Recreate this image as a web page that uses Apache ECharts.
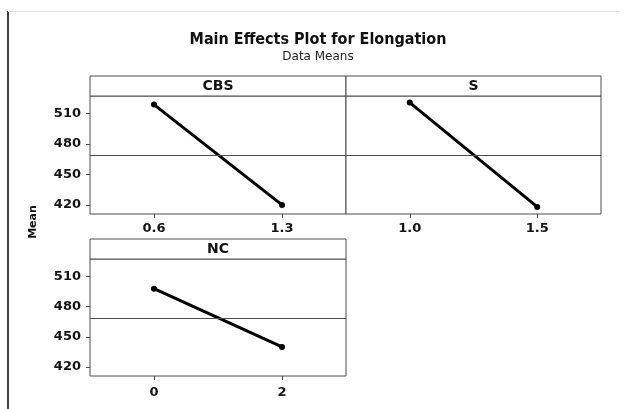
<!DOCTYPE html>
<html>
<head>
<meta charset="utf-8">
<title>Main Effects Plot for Elongation</title>
<script src="https://cdn.jsdelivr.net/npm/echarts@6/dist/echarts.min.js"></script>
<style>
  html, body { margin: 0; padding: 0; background: #fff; }
  #chart { width: 625px; height: 409px; }
</style>
</head>
<body>
<div id="chart"></div>
<script>
// Factor names and their level labels
const factorNames = ['CBS', 'S', 'NC'];
const levelsCBS = ['0.6', '1.3'];
const levelsS = ['1.0', '1.5'];
const levelsNC = ['0', '2'];

// Mean elongation at each factor level
const meansCBS = [519, 420];
const meansS = [521, 418];
const meansNC = [498, 440];

// Overall mean of the data (reference line in each panel)
const grandMean = 469;

// Value axis tick labels and range
const yTicks = [420, 450, 480, 510];
const yMin = 411;
const yMax = 527.5;

const factorLevels = [levelsCBS, levelsS, levelsNC];
const factorMeans = [meansCBS, meansS, meansNC];

// Panel placement: strip header on top, plot area below
const panels = [
  { left: 90, top: 76, width: 256, plotHeight: 118, labelMargin: 8, showY: true },
  { left: 346, top: 76, width: 255, plotHeight: 118, labelMargin: 8, showY: false },
  { left: 90, top: 239, width: 256, plotHeight: 117, labelMargin: 10, showY: true }
];
const stripHeight = 20;
const frameColor = '#4d4d4d';
const textColor = '#141414';
const font = 'DejaVu Sans';

const grids = [], xAxes = [], yAxes = [], series = [], graphics = [];

panels.forEach((p, i) => {
  grids.push({
    left: p.left,
    top: p.top + stripHeight,
    width: p.width,
    height: p.plotHeight,
    show: true,
    borderColor: frameColor,
    borderWidth: 1,
    backgroundColor: '#fff'
  });
  xAxes.push({
    type: 'category',
    gridIndex: i,
    data: factorLevels[i],
    boundaryGap: true,
    axisLine: { show: false },
    axisTick: { show: true, alignWithLabel: true, length: 4, lineStyle: { color: frameColor } },
    axisLabel: { margin: p.labelMargin, color: textColor, fontFamily: font, fontWeight: 'bold', fontSize: 13 },
    splitLine: { show: false }
  });
  yAxes.push({
    type: 'value',
    gridIndex: i,
    min: yMin,
    max: yMax,
    axisLine: { show: false },
    axisTick: { show: p.showY, length: 4, customValues: yTicks, lineStyle: { color: frameColor } },
    axisLabel: { show: p.showY, margin: 9, customValues: yTicks, color: textColor, fontFamily: font, fontWeight: 'bold', fontSize: 13 },
    splitLine: { show: false }
  });
  series.push({
    type: 'line',
    name: factorNames[i],
    xAxisIndex: i,
    yAxisIndex: i,
    data: factorMeans[i],
    symbol: 'circle',
    symbolSize: 6,
    lineStyle: { color: '#000', width: 3 },
    itemStyle: { color: '#000' },
    markLine: {
      silent: true,
      symbol: ['none', 'none'],
      label: { show: false },
      lineStyle: { color: frameColor, width: 1, type: 'solid' },
      data: [{ yAxis: grandMean }]
    }
  });
  // Strip header with factor name
  graphics.push({
    type: 'rect',
    shape: { x: p.left, y: p.top, width: p.width, height: stripHeight },
    style: { fill: '#fff', stroke: frameColor, lineWidth: 1 },
    silent: true
  });
  graphics.push({
    type: 'text',
    x: p.left + p.width / 2,
    y: p.top + stripHeight / 2 + 0.5,
    style: {
      text: factorNames[i],
      textAlign: 'center',
      textVerticalAlign: 'middle',
      fill: textColor,
      font: 'bold 14px "' + font + '"'
    },
    silent: true
  });
});

// Titles
graphics.push({
  type: 'text', x: 318, y: 40,
  style: { text: 'Main Effects Plot for Elongation', textAlign: 'center', textVerticalAlign: 'middle',
           fill: '#111', font: 'bold 16px "DejaVu Sans Condensed"' },
  silent: true
});
graphics.push({
  type: 'text', x: 318, y: 57,
  style: { text: 'Data Means', textAlign: 'center', textVerticalAlign: 'middle',
           fill: '#222', font: '12px "' + font + '"' },
  silent: true
});
// Shared value-axis name
graphics.push({
  type: 'text', x: 33, y: 222, rotation: Math.PI / 2,
  style: { text: 'Mean', textAlign: 'center', textVerticalAlign: 'middle',
           fill: textColor, font: 'bold 11px "' + font + '"' },
  silent: true
});
// Page frame edges
graphics.push({
  type: 'line', shape: { x1: 8, y1: 11, x2: 8, y2: 409 },
  style: { stroke: '#000', lineWidth: 1.5 }, silent: true
});
graphics.push({
  type: 'line', shape: { x1: 8, y1: 11.5, x2: 620, y2: 11.5 },
  style: { stroke: '#e4e4e4', lineWidth: 1 }, silent: true
});

const chart = echarts.init(document.getElementById('chart'), null, { renderer: 'canvas' });
chart.setOption({
  animation: false,
  backgroundColor: '#fff',
  grid: grids,
  xAxis: xAxes,
  yAxis: yAxes,
  series: series,
  graphic: { elements: graphics }
});
</script>
</body>
</html>
